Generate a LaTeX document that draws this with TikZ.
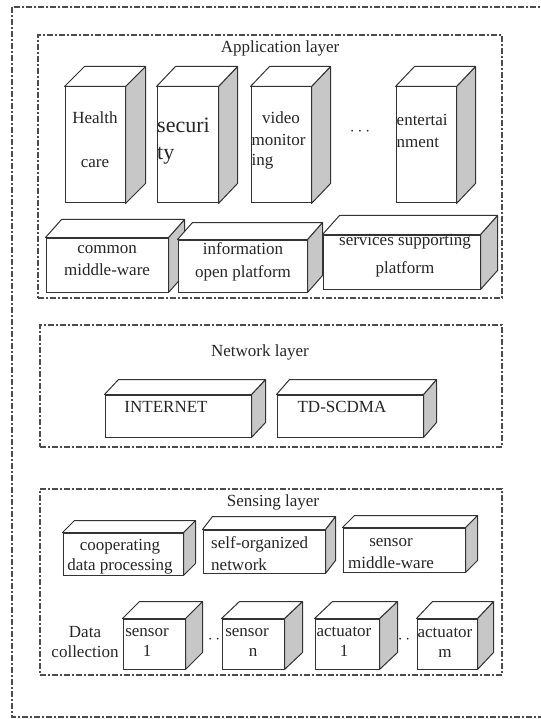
\documentclass[tikz,border=0pt]{standalone}
\usepackage{fontspec}
\setmainfont{Liberation Serif}
\usepackage{tikz}

% side and top faces of a box drawn on a front node
\newcommand{\boxfaces}[3]{%
  \filldraw[sideface] (#1.north east) -- ++(#2,#3) -- ([shift={(#2,#3)}]#1.south east) -- (#1.south east) -- cycle;
  \filldraw[topface] (#1.north west) -- ++(#2,#3) -- ([shift={(#2,#3)}]#1.north east) -- (#1.north east) -- cycle;
}

\begin{document}
\begin{tikzpicture}[x=1pt, y=-1pt,
    every node/.style={font=\fontsize{17}{20}\selectfont, text=black!85, inner sep=0pt},
    layerbox/.style={draw=black!70, line width=1.2pt, dash pattern=on 6pt off 2pt on 2pt off 2pt},
    front/.style={draw=black!80, fill=white, line width=1pt},
    sideface/.style={draw=black!80, fill=black!22, line width=1pt, line join=round},
    topface/.style={draw=black!80, fill=white, line width=1pt, line join=round}]
    \useasboundingbox (0,0) rectangle (540,719);
    % outer frame
    \draw[layerbox, line width=1.5pt] (12,7) rectangle (548,717);

    % application layer
    \node[layerbox, minimum width=464pt, minimum height=263pt] (app) at (270,166.5) {};
    \node (applbl) at (280,48) {Application layer};
    \node[front, minimum width=60pt, minimum height=116pt] (health) at (95,145) {};
    \boxfaces{health}{20}{-20}
    \node[align=center] (healthtxt) at (95,140) {Health\\[24pt]care};
    \node[front, minimum width=61pt, minimum height=116pt] (secur) at (187.5,145) {};
    \boxfaces{secur}{19}{-20}
    \node[anchor=west, align=left, font=\fontsize{22}{27}\selectfont] (securtxt) at (157,141.5) {securi\\ty};
    \node[front, minimum width=60pt, minimum height=116pt] (video) at (281,145) {};
    \boxfaces{video}{19}{-20}
    \node (videotxt) at (281,118) {video};
    \node[anchor=west, align=left] (montxt) at (251.5,152) {monitor\\ing};
    \node (appdots) at (360,132) {$\cdots$};
    \node[front, minimum width=60pt, minimum height=116pt] (entert) at (426,145) {};
    \boxfaces{entert}{19}{-20}
    \node[anchor=west, align=left] (enterttxt) at (396.5,131) {entertai\\[2pt]nment};
    % supporting platforms
    \node[front, minimum width=122pt, minimum height=54pt] (common) at (107,265) {};
    \boxfaces{common}{16}{-18}
    \node[align=center] (commontxt) at (107,261) {common\\[2pt]middle-ware};
    \node[front, minimum width=129pt, minimum height=52pt] (info) at (242.5,266) {};
    \boxfaces{info}{15}{-17}
    \node[align=center] (infotxt) at (243,261.5) {information\\[3pt]open platform};
    \node[front, minimum width=157pt, minimum height=54pt] (serv) at (401.5,262) {};
    \boxfaces{serv}{17}{-19}
    \node[align=center] (servtxt) at (405,256) {services supporting\\[8pt]platform};

    % network layer
    \node[layerbox, minimum width=462pt, minimum height=122pt] (net) at (271,386) {};
    \node (netlbl) at (260,352) {Network layer};
    \node[front, minimum width=146pt, minimum height=42pt] (inet) at (178,416) {};
    \boxfaces{inet}{14}{-15}
    \node (inettxt) at (166,407) {INTERNET};
    \node[front, minimum width=146pt, minimum height=42pt] (tds) at (350,416) {};
    \boxfaces{tds}{13}{-15}
    \node (tdstxt) at (342,407) {TD-SCDMA};

    % sensing layer
    \node[layerbox, minimum width=462pt, minimum height=186pt] (sens) at (271,582) {};
    \node (senslbl) at (273,502) {Sensing layer};
    \node[front, minimum width=120pt, minimum height=42pt] (coop) at (123,554) {};
    \boxfaces{coop}{12}{-12}
    \node[align=center] (cooptxt) at (120,557) {cooperating\\data processing};
    \node[front, minimum width=122pt, minimum height=43pt] (selforg) at (264,551.5) {};
    \boxfaces{selforg}{10}{-13}
    \node[anchor=west, align=left] (selforgtxt) at (211,554) {self-organized\\[2pt]network};
    \node[front, minimum width=122pt, minimum height=44pt] (sensmw) at (404,550) {};
    \boxfaces{sensmw}{12}{-12}
    \node[align=center] (sensmwtxt) at (391,554) {sensor\\[2pt]middle-ware};
    % data collection
    \node[align=center] (datatxt) at (85,642.5) {Data\\collection};
    \node[front, minimum width=62pt, minimum height=50pt] (sensa) at (154,644) {};
    \boxfaces{sensa}{17}{-17}
    \node[align=center] (sensatxt) at (147,642) {sensor\\1};
    \node (dotsa) at (214,640) {$\cdot\,\cdot$};
    \node[front, minimum width=62pt, minimum height=50pt] (sensb) at (253,644) {};
    \boxfaces{sensb}{18}{-17}
    \node[align=center] (sensbtxt) at (247,642) {sensor\\\hspace*{12pt}n};
    \node[front, minimum width=64pt, minimum height=50pt] (acta) at (347,644) {};
    \boxfaces{acta}{18}{-17}
    \node[align=center] (actatxt) at (344,642) {actuator\\1};
    \node (dotsb) at (404,640) {$\cdot\,\cdot$};
    \node[front, minimum width=60pt, minimum height=50pt] (actb) at (447,644) {};
    \boxfaces{actb}{16}{-17}
    \node[align=center] (actbtxt) at (445,643) {actuator\\m};
\end{tikzpicture}
\end{document}
